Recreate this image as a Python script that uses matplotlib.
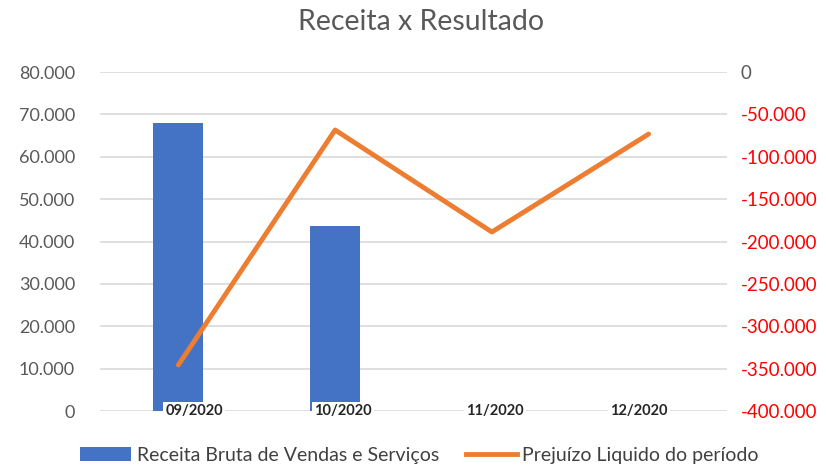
import numpy as np
import matplotlib.pyplot as plt
from matplotlib.lines import Line2D
from matplotlib.patches import Patch

# Data
meses = ['09/2020', '10/2020', '11/2020', '12/2020']
receita = [68000, 43600, 0, 0]
prejuizo = [-345700, -68400, -188800, -73200]

left_ticks = np.arange(0, 80001, 10000)
right_ticks = np.arange(-400000, 1, 50000)


def fmt(v):
    # thousands separator with dots (pt-BR)
    return f'{int(v):,}'.replace(',', '.')


plt.rcParams['font.family'] = ['Lato', 'DejaVu Sans']

fig = plt.figure(figsize=(8.26, 4.65), dpi=100)
ax = fig.add_axes([100 / 826, 1 - 411 / 465, 627 / 826, 339 / 465])
ax2 = ax.twinx()

x = np.arange(len(meses))
ax.bar(x, receita, width=0.32, color='#4472c4', zorder=2)
ax.set_xlim(-0.5, 3.5)
ax.set_ylim(0, 80000)
ax.set_yticks(left_ticks)
ax.set_yticklabels([fmt(v) for v in left_ticks], color='#595959', fontsize=13)
ax.grid(axis='y', color='#d9d9d9', lw=1.2, zorder=0)
ax.set_axisbelow(True)
ax.tick_params(length=0, pad=18)
ax.set_xticks([])

ax2.plot(x, prejuizo, color='#ed7d31', lw=3.5, solid_capstyle='round', zorder=3)
ax2.set_ylim(-400000, 0)
ax2.set_yticks(right_ticks)
ax2.set_yticklabels([fmt(v) for v in right_ticks], fontsize=13.5)
for lab, v in zip(ax2.get_yticklabels(), right_ticks):
    lab.set_color('red' if v < 0 else '#595959')
ax2.tick_params(length=0, pad=10)

for a in (ax, ax2):
    for s in a.spines.values():
        s.set_visible(False)

# category labels sitting on the axis with white boxes
offs = [0.1, 0.05, 0.02, -0.06]
for xi, lab, o in zip(x, meses, offs):
    ax2.text(xi + o, -400000, lab, ha='center', va='center', fontsize=10.5,
             fontweight='bold', color='#262626', zorder=5,
             bbox=dict(facecolor='white', edgecolor='none', pad=1.5))

fig.suptitle('Receita x Resultado', x=0.51, y=0.98, fontsize=20.5, color='#595959')

handles = [Patch(facecolor='#4472c4', label='Receita Bruta de Vendas e Serviços'),
           Line2D([0], [0], color='#ed7d31', lw=3.5, label='Prejuízo Liquido do período')]
fig.legend(handles=handles, loc='lower center', ncol=2, frameon=False,
           fontsize=14, bbox_to_anchor=(0.508, -0.035), handlelength=2.6,
           columnspacing=1.4, handletextpad=0.3, labelcolor='#404040')

plt.savefig('out.png', dpi=100)
